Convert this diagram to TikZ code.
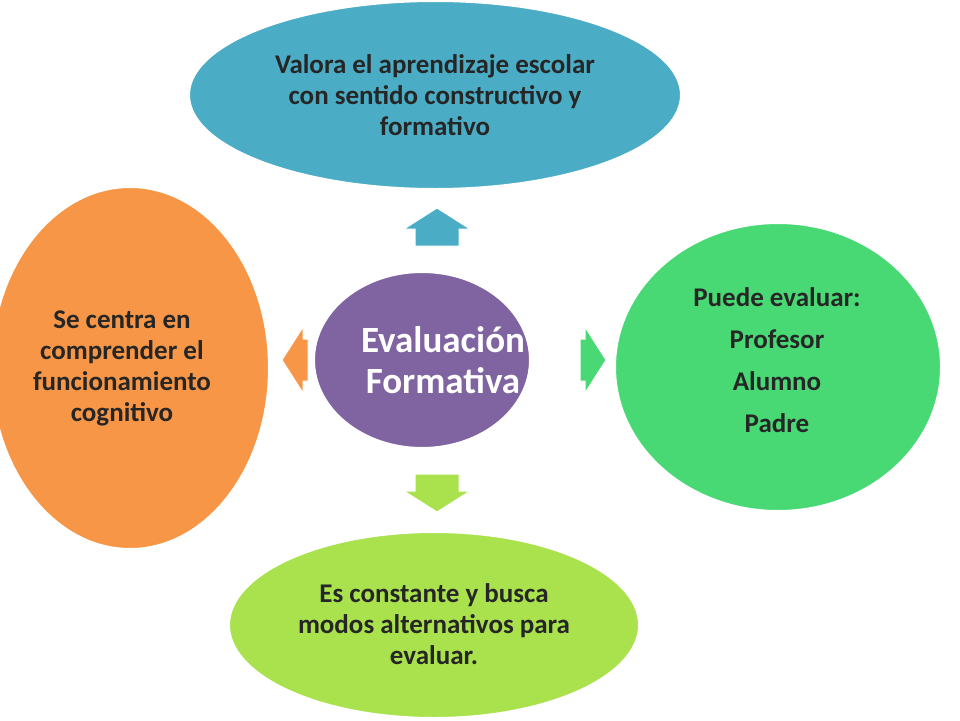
\documentclass[tikz,border=0pt]{standalone}
\usepackage{fontspec}
\setmainfont{Carlito}
\usetikzlibrary{shapes.geometric}
\definecolor{cblue}{HTML}{4BACC6}
\definecolor{corange}{HTML}{F79646}
\definecolor{cgreen}{HTML}{48D975}
\definecolor{clime}{HTML}{A9E24C}
\definecolor{cpurple}{HTML}{8064A2}
\tikzset{
 blob/.style={ellipse,draw=white,line width=2pt,inner sep=0pt,align=center},
 txt/.style={font=\bfseries\fontsize{27}{31}\selectfont,align=center,text=black!85},
 arr/.style={draw=white,line width=1pt}
}
\begin{document}
\begin{tikzpicture}[x=1pt,y=-1pt]
\useasboundingbox (0,0) rectangle (960,720);
\node[blob,fill=cblue,minimum width=492,minimum height=188] (top) at (435,95) {};
\node[txt] (toptxt) at (435,95) {Valora el aprendizaje escolar\\con sentido constructivo y\\formativo};
\node[blob,fill=corange,minimum width=278,minimum height=362] (left) at (130,368) {};
\node[txt] (lefttxt) at (122,368) {Se centra en\\comprender el\\funcionamiento\\cognitivo};
\node[blob,fill=cgreen,minimum width=326,minimum height=288] (right) at (778,367) {};
\node[txt,font=\bfseries\fontsize{27}{42}\selectfont] (righttxt) at (777,360) {Puede evaluar:\\Profesor\\Alumno\\Padre};
\node[blob,fill=clime,minimum width=410,minimum height=186] (bot) at (434,625) {};
\node[txt] (bottxt) at (434,624) {Es constante y busca\\modos alternativos para\\evaluar.};
\node[blob,fill=cpurple,minimum width=216,minimum height=176] (c) at (422,360) {};
\node[txt,text=white,font=\bfseries\fontsize{37}{41}\selectfont] (ctxt) at (443,360) {Evaluación\\Formativa};
% arrows
\fill[cblue,arr] (437,208) -- (470,229) -- (459,229) -- (459,246) -- (415,246) -- (415,229) -- (404,229) -- cycle;
\fill[clime,arr] (437,512) -- (470,491) -- (459,491) -- (459,474) -- (415,474) -- (415,491) -- (404,491) -- cycle;
\fill[cgreen,arr] (606,360) -- (585,327) -- (585,339) -- (580,339) -- (580,381) -- (585,381) -- (585,393) -- cycle;
\fill[corange,arr] (282,360) -- (303,327) -- (303,339) -- (308,339) -- (308,381) -- (303,381) -- (303,393) -- cycle;
\end{tikzpicture}
\end{document}
